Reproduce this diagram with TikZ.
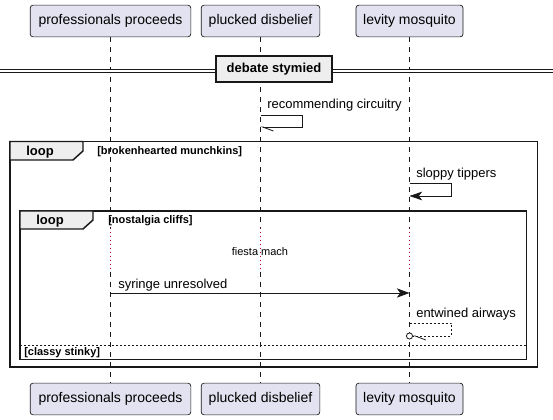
\documentclass[tikz,border=0pt]{standalone}
\usepackage{fontspec}
\setmainfont{Liberation Sans}
\usetikzlibrary{arrows.meta}

\definecolor{ink}{HTML}{181818}
\definecolor{actorfill}{HTML}{E2E2F0}
\definecolor{tabfill}{HTML}{EEEEEE}
\definecolor{delayred}{HTML}{A80036}

\begin{document}
\begin{tikzpicture}[x=0.75pt,y=-0.75pt,
  actor/.style={draw=ink,fill=actorfill,rounded corners=2.2pt,line width=0.5pt,minimum height=23.8pt,inner sep=0pt,font=\fontsize{10.5}{12}\selectfont},
  lifeline/.style={ink,line width=0.5pt,dash pattern=on 3.75pt off 3.75pt},
  delayline/.style={delayred,line width=0.6pt,dash pattern=on 0.6pt off 2.4pt},
  msg/.style={ink,line width=0.6pt},
  lbl/.style={anchor=west,inner sep=0pt,font=\fontsize{9.75}{11}\selectfont},
  frame/.style={ink,line width=1.1pt},
  tabtxt/.style={inner sep=0pt,font=\fontsize{9.75}{11}\selectfont\bfseries},
  guard/.style={anchor=west,inner sep=0pt,font=\fontsize{8.25}{10}\selectfont\bfseries}]
\useasboundingbox (0,0) rectangle (553,420);

%participants
\node[actor,minimum width=120.5pt] (PP) at (110.5,21) {professionals proceeds};
\node[actor,minimum width=89pt] (PD) at (260.5,21) {plucked disbelief};
\node[actor,minimum width=80.3pt] (LM) at (409.5,21) {levity mosquito};
\node[actor,minimum width=120.5pt] (PPb) at (110.5,399) {professionals proceeds};
\node[actor,minimum width=89pt] (PDb) at (260.5,399) {plucked disbelief};
\node[actor,minimum width=80.3pt] (LMb) at (409.5,399) {levity mosquito};

%lifelines, with the delay
\coordinate (PPd1) at (110.5,228);
\coordinate (PPd2) at (110.5,272);
\coordinate (PDd1) at (260.5,228);
\coordinate (PDd2) at (260.5,272);
\coordinate (LMd1) at (409.5,228);
\coordinate (LMd2) at (409.5,272);
\draw[lifeline] (PP) -- (PPd1);
\draw[delayline] (PPd1) -- (PPd2);
\draw[lifeline] (PPd2) -- (PPb);
\draw[lifeline] (PD) -- (PDd1);
\draw[delayline] (PDd1) -- (PDd2);
\draw[lifeline] (PDd2) -- (PDb);
\draw[lifeline] (LM) -- (LMd1);
\draw[delayline] (LMd1) -- (LMd2);
\draw[lifeline] (LMd2) -- (LMb);
\node[inner sep=0pt,font=\fontsize{8.25}{10}\selectfont] (FM) at (260,252) {fiesta mach};

%divider
\draw[ink,line width=0.75pt,double=white,double distance=1.5pt] (0,71) -- (553,71);
\node[draw=ink,line width=1.5pt,fill=tabfill,minimum width=87pt,minimum height=19.5pt,inner sep=0pt,font=\fontsize{9.75}{11}\selectfont\bfseries] (DS) at (274,69) {debate stymied};

%recommending circuitry
\coordinate (rc1) at (260.5,115);
\coordinate (rc2) at (260.5,127);
\draw[msg,-{Straight Barb[left,length=8pt,width=6pt]}] (rc1) -- ++(42,0) |- (rc2);
\node[lbl] (rcL) at (267,105) {recommending circuitry};

%loop 1
\draw[frame] (10,141.5) rectangle (537.5,367);
\draw[frame,fill=tabfill] (10,141.5) -- (83,141.5) -- (83,151) -- (73,160) -- (10,160) -- cycle;
\node[tabtxt] (L1) at (40,152) {loop};
\node[guard] (G1) at (97,152) {[brokenhearted munchkins]};

%sloppy tippers
\coordinate (st1) at (409.5,183.3);
\coordinate (st2) at (409.5,196);
\draw[msg,-{Stealth[length=9.5pt,width=6.5pt,inset=2.5pt]}] (st1) -- ++(42,0) |- (st2);
\node[lbl] (stL) at (416,174) {sloppy tippers};

%loop 2
\draw[frame] (20,211) rectangle (526.5,359.5);
\draw[frame,fill=tabfill] (20,211) -- (93,211) -- (93,220) -- (83,229) -- (20,229) -- cycle;
\node[tabtxt] (L2) at (50,221) {loop};
\node[guard] (G2) at (108,221) {[nostalgia cliffs]};

%syringe unresolved
\coordinate (su1) at (110.5,293);
\coordinate (su2) at (409.5,293);
\draw[msg,-{Stealth[length=9.5pt,width=7pt,inset=2.5pt]}] (su1) -- (su2);
\node[lbl] (suL) at (118,285) {syringe unresolved};

%entwined airways
\coordinate (ea1) at (409.5,323.3);
\coordinate (ea2) at (409.5,336);
\draw[msg,dash pattern=on 1.5pt off 1.5pt,shorten >=-2.6pt,-{Straight Barb[left,length=8pt,width=6pt] Circle[open,length=5.2pt,fill=white]}] (ea1) -- ++(42,0) |- (ea2);
\node[lbl] (eaL) at (416,314) {entwined airways};

%else
\draw[ink,line width=0.75pt,dash pattern=on 1.5pt off 1.5pt] (20,345) -- (526.5,345);
\node[guard] (G3) at (24,353) {[classy stinky]};
\end{tikzpicture}
\end{document}
